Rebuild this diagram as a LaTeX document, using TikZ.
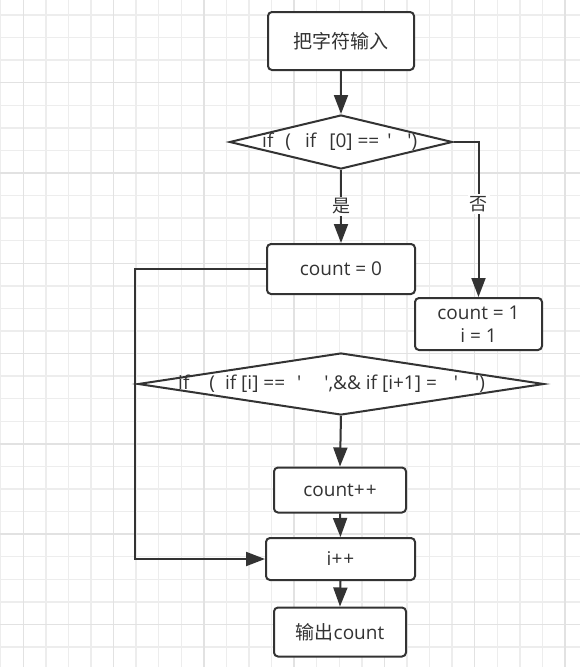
\documentclass[tikz,border=0pt]{standalone}
\usepackage{fontspec}
\setmainfont{Open Sans}[Ligatures=TeXOff]
\newfontfamily\cjk{Noto Sans CJK SC}
\usetikzlibrary{shapes.geometric,arrows.meta}

\definecolor{linegray}{HTML}{333333}
\definecolor{textgray}{HTML}{333333}
\definecolor{gridminor}{HTML}{EDEDED}
\definecolor{gridmajor}{HTML}{E2E2E2}

% straight quote, gap
\newcommand\sq{'}
\newcommand\gap[1]{\hspace{#1pt}}

\tikzset{
	stepbox/.style={draw=linegray, line width=2pt, rounded corners=4pt, fill=white, text=textgray, font=\fontsize{19}{23}\selectfont, align=center, inner sep=0pt},
	testbox/.style={draw=linegray, line width=2pt, shape=diamond, fill=white, inner sep=0pt},
	testtext/.style={text=textgray, font=\fontsize{19}{23}\selectfont, inner sep=0pt, anchor=west},
	flow/.style={draw=linegray, line width=2pt, -{Triangle[length=19pt,width=14pt]}},
	yesno/.style={fill=white, text=textgray, font=\cjk\fontsize{18}{22}\selectfont, inner sep=2pt},
}

\begin{document}
\begin{tikzpicture}[x=1pt,y=-1pt]
		\useasboundingbox (0,0) rectangle (580,667);
		\fill[white] (0,0) rectangle (580,667);
		%
		\begin{scope}[line width=1.4pt]
			\foreach \k in {-1,...,24} {
				\pgfmathsetmacro\gx{23.3+22.57*\k}
				\draw[gridminor] (\gx,0) -- (\gx,667);
			}
			\foreach \k in {-1,...,29} {
				\pgfmathsetmacro\gy{15+22.57*\k}
				\draw[gridminor] (0,\gy) -- (580,\gy);
			}
			\foreach \k in {0,4,...,24} {
				\pgfmathsetmacro\gx{23.3+22.57*\k}
				\draw[gridmajor] (\gx,0) -- (\gx,667);
			}
			\foreach \k in {-1,3,...,27} {
				\pgfmathsetmacro\gy{15+22.57*\k}
				\draw[gridmajor] (0,\gy) -- (580,\gy);
			}
		\end{scope}
		%
		\node[stepbox, minimum width=146pt, minimum height=58pt] (input) at (341,41) {\cjk 把字符输入};
		\node[testbox, minimum width=223pt, minimum height=54pt] (firsttest) at (341,142) {};
		\node[testtext] (firsttext) at (262,142) {if\gap{12}(\gap{14}if\gap{13}[0] == \gap{3}\sq\gap{16}\sq)};
		\node[stepbox, minimum width=148pt, minimum height=50pt] (zero) at (341,269) {count = 0};
		\node[stepbox, minimum width=127pt, minimum height=52pt] (one) at (478.5,324) {count = 1\\i = 1};
		\node[testbox, minimum width=406pt, minimum height=62pt] (pairtest) at (341,384) {};
		\node[testtext] (pairtext) at (178,384) {if\gap{20}(\gap{10}if [i] == \gap{7}\sq\gap{23}\sq,\&\& if [i+1] = \gap{12}\sq\gap{17}\sq)};
		\node[stepbox, minimum width=132pt, minimum height=45pt] (inc) at (340,490) {count+\kern1pt+};
		\node[stepbox, minimum width=149pt, minimum height=42pt] (next) at (340.5,559) {i+\kern1pt+};
		\node[stepbox, minimum width=132pt, minimum height=49pt] (output) at (340,632) {{\cjk 输出}count};
		%
		\coordinate (back) at (135,0);
		\draw[flow] (input.south) -- (firsttest.north);
		\draw[flow] (firsttest.south) -- node[yesno] {是} (zero.north);
		\draw[flow] (firsttest.east) -- (one.north |- firsttest.east) -- node[yesno, pos=0.4] {否} (one.north);
		\draw[flow] (zero.west) -- (back |- zero.west) -- (back |- next.west) -- (next.west);
		\draw[flow] (pairtest.south) -- (inc.north);
		\draw[flow] (inc.south) -- (next.north);
		\draw[flow] (next.south) -- (output.north);
	\end{tikzpicture}
\end{document}
